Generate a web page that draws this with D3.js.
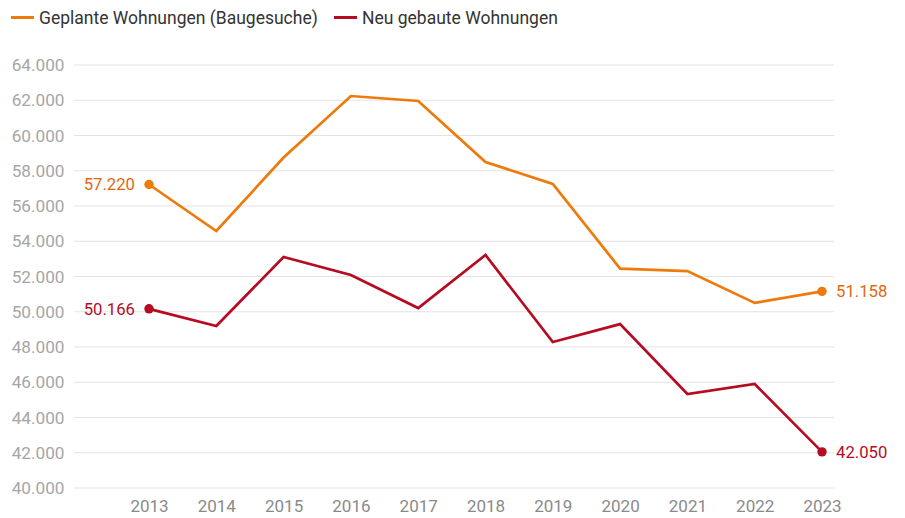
<!DOCTYPE html>
<html><head><meta charset="utf-8">
<script src="https://cdn.jsdelivr.net/npm/d3@7"></script>
<style>body{margin:0;background:#fff;font-family:Roboto,sans-serif}</style>
</head><body><svg id="c" width="905" height="518"></svg>
<script>
const years = [2013,2014,2015,2016,2017,2018,2019,2020,2021,2022,2023];
const geplant = [57220,54580,58750,62240,61960,58500,57250,52450,52310,50500,51158];
const gebaut = [50166,49190,53110,52090,50210,53220,48280,49300,45330,45900,42050];
const yTicks = [40000,42000,44000,46000,48000,50000,52000,54000,56000,58000,60000,62000,64000];
const seriesNames = ["Geplante Wohnungen (Baugesuche)","Neu gebaute Wohnungen"];
const colors = ["#ee7a0c","#b50c22"];

const svg = d3.select("#c");
const x = d3.scalePoint().domain(years).range([149,822]);
const y = d3.scaleLinear().domain([40000,64000]).range([488,65]);
const fmt = v => d3.format(",")(v).replace(/,/g,".");

// grid
svg.append("g").selectAll("line").data(yTicks).join("line")
  .attr("x1",74).attr("x2",834).attr("y1",d=>y(d)).attr("y2",d=>y(d))
  .attr("stroke","#e3e3e3").attr("stroke-width",1.2);

const yAxis = d3.axisLeft(y).tickValues(yTicks).tickFormat(fmt).tickSize(0).tickPadding(0);
const ga = svg.append("g").attr("transform","translate(64.5,0)").call(yAxis);
ga.select(".domain").remove();
ga.selectAll("text").attr("font-family","Roboto").attr("font-size",17.2).attr("fill","#a6a6a6");

const xAxis = d3.axisBottom(x).tickSize(0).tickPadding(0);
const gx = svg.append("g").attr("transform","translate(0,500)").call(xAxis);
gx.select(".domain").remove();
gx.selectAll("text").attr("font-family","Roboto").attr("font-size",17).attr("fill","#8a8a8a").attr("dy","0.71em");

const line = d3.line().x((d,i)=>x(years[i])).y(d=>y(d));
[geplant,gebaut].forEach((s,k)=>{
  svg.append("path").attr("d",line(s)).attr("fill","none").attr("stroke",colors[k]).attr("stroke-width",2.7).attr("stroke-linejoin","miter");
  [0,s.length-1].forEach(i=>{
    svg.append("circle").attr("cx",x(years[i])).attr("cy",y(s[i])).attr("r",4.7).attr("fill",colors[k]);
    svg.append("text").attr("x",x(years[i]) + (i===0?-14:14)).attr("y",y(s[i])).attr("dy","0.35em")
      .attr("text-anchor",i===0?"end":"start").attr("font-family","Roboto").attr("font-size",16.7)
      .attr("fill",k===0?"#e2670c":colors[k]).text(fmt(s[i]));
  });
});

// legend
const lx = [11,334];
seriesNames.forEach((n,k)=>{
  svg.append("line").attr("x1",lx[k]).attr("x2",lx[k]+23).attr("y1",17.5).attr("y2",17.5).attr("stroke",colors[k]).attr("stroke-width",3);
  svg.append("text").attr("x",lx[k]+28).attr("y",17.5).attr("dy","0.36em").attr("font-family","Roboto").attr("font-size",17.5)
    .attr("fill","#333").text(n);
});
</script></body></html>
